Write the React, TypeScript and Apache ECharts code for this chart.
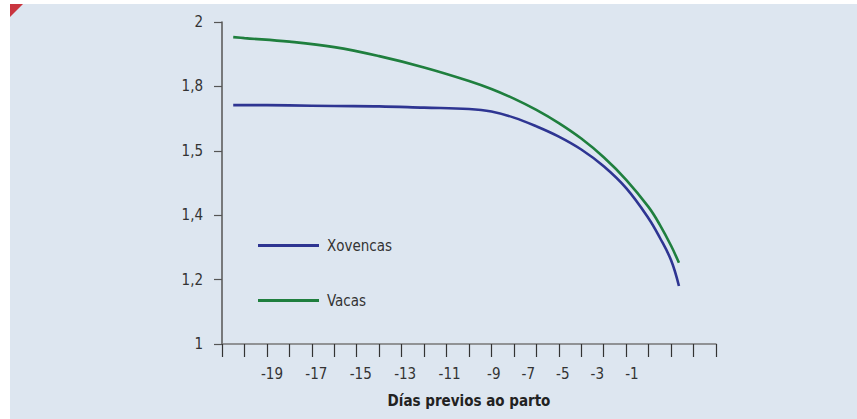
import React, { useEffect, useRef } from "react";
import * as echarts from "echarts";

const days = [-20.5, -20, -18, -16, -14, -12, -10, -9, -8, -7, -6, -5, -4, -3, -2, -1.5, -1, -0.65];
const xovencas = [1.742, 1.742, 1.741, 1.739, 1.738, 1.734, 1.73, 1.722, 1.703, 1.676, 1.644, 1.604, 1.552, 1.484, 1.39, 1.33, 1.26, 1.18];
const vacas = [1.953, 1.95, 1.939, 1.922, 1.894, 1.859, 1.817, 1.792, 1.762, 1.727, 1.686, 1.638, 1.58, 1.51, 1.425, 1.37, 1.305, 1.252];
const yTickLabels = ["1", "1,2", "1,4", "1,5", "1,8", "2"];
const xLabelsEarly = [-19, -17, -15, -13, -11];
const xLabelsLate = [-9, -7, -5, -3, -1];
const seriesNames = ["Xovencas", "Vacas"];
const axisTitle = "Días previos ao parto";

const FONT = "'DejaVu Sans Condensed', 'Liberation Sans Narrow', Roboto, sans-serif";
const FS = 15;

export default function App() {
  const ref = useRef<HTMLDivElement>(null);
  useEffect(() => {
    if (!ref.current) return;
    const chart = echarts.init(ref.current, null, { renderer: "svg" });
    const pick = (list: number[]) => (v: number) => {
      const hit = list.find((e) => Math.abs(e - v) < 1e-6);
      return hit === undefined ? "" : String(hit);
    };
    const labelAxis = (min: number, max: number, list: number[]) => ({
      type: "value",
      gridIndex: 0,
      position: "bottom",
      min,
      max,
      interval: 0.25,
      axisLine: { show: false, onZero: false },
      axisTick: { show: false },
      splitLine: { show: false },
      axisLabel: {
        show: true,
        margin: 22,
        color: "#333",
        fontSize: FS,
        fontFamily: FONT,
        formatter: pick(list),
      },
    });
    chart.setOption({
      animation: false,
      backgroundColor: "#ffffff",
      graphic: [
        {
          type: "rect",
          shape: { x: 10, y: 4, width: 847, height: 415 },
          style: { fill: "#dde6f0" },
          z: -10,
          silent: true,
        },
        {
          type: "polygon",
          shape: { points: [[10, 4], [23, 4], [10, 17]] },
          style: { fill: "#c9353f" },
          z: -5,
          silent: true,
        },
      ],
      grid: { left: 222, right: 141, top: 22, bottom: 75, containLabel: false },
      legend: {
        orient: "vertical",
        left: 258,
        top: 238,
        padding: 0,
        icon: "rect",
        itemWidth: 61,
        itemHeight: 3,
        itemGap: 40,
        textStyle: { fontSize: FS, fontFamily: FONT, color: "#333", padding: [0, 0, 0, 3] },
        data: seriesNames,
      },
      xAxis: [
        {
          type: "value",
          min: -21,
          max: 1,
          interval: 1,
          name: axisTitle,
          nameLocation: "middle",
          nameGap: 49,
          nameTextStyle: { fontSize: FS, fontWeight: "bold", fontFamily: FONT, color: "#222" },
          axisLine: { show: true, onZero: false, lineStyle: { color: "#777", width: 1.5 } },
          axisTick: { show: true, inside: false, length: 13, lineStyle: { color: "#333", width: 1.2 } },
          axisLabel: { show: false },
          splitLine: { show: false },
        },
        labelAxis(-21.25, 1, xLabelsEarly),
        labelAxis(-24.75, 3.875, xLabelsLate),
      ],
      yAxis: {
        type: "value",
        min: 1,
        max: 2,
        interval: 0.2,
        axisLine: { show: true, onZero: false, lineStyle: { color: "#555", width: 1.5 } },
        axisTick: { show: true, inside: false, length: 8, lineStyle: { color: "#555", width: 1.2 } },
        axisLabel: {
          margin: 19,
          color: "#333",
          fontSize: FS,
          fontFamily: FONT,
          formatter: (v: number) => yTickLabels[Math.round((v - 1) / 0.2)] ?? "",
        },
        splitLine: { show: false },
      },
      series: [
        {
          name: seriesNames[0],
          type: "line",
          xAxisIndex: 0,
          smooth: 0.4,
          showSymbol: false,
          symbol: "none",
          lineStyle: { color: "#2e3592", width: 2.6 },
          itemStyle: { color: "#2e3592" },
          data: days.map((d, i) => [d, xovencas[i]]),
        },
        {
          name: seriesNames[1],
          type: "line",
          xAxisIndex: 0,
          smooth: 0.4,
          showSymbol: false,
          symbol: "none",
          lineStyle: { color: "#1f7f3e", width: 2.6 },
          itemStyle: { color: "#1f7f3e" },
          data: days.map((d, i) => [d, vacas[i]]),
        },
      ],
    });
    return () => chart.dispose();
  }, []);
  return (
    <div
      ref={ref}
      style={{ position: "fixed", left: 0, top: 0, width: 857, height: 419 }}
    />
  );
}
